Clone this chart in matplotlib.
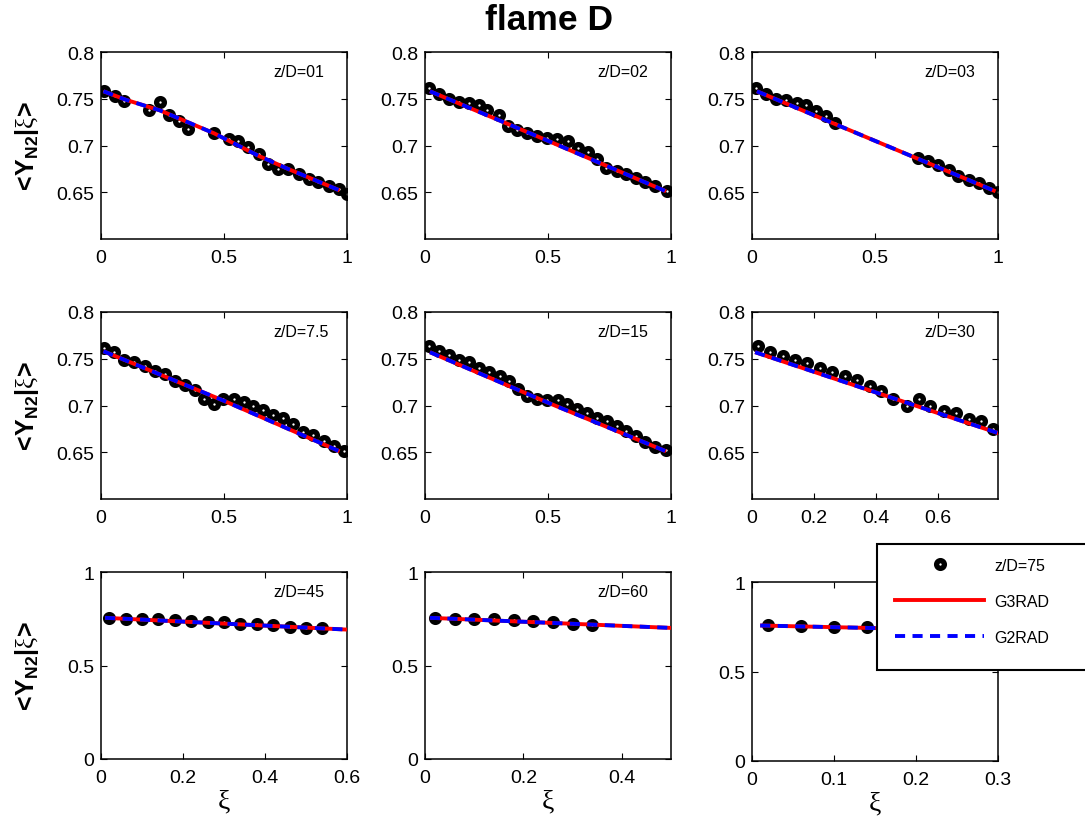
import matplotlib
matplotlib.use('Agg')
import matplotlib.pyplot as plt
from matplotlib.lines import Line2D
from matplotlib.patches import Rectangle

plt.rcParams['font.family'] = ['Liberation Sans', 'DejaVu Sans']
plt.rcParams['mathtext.fontset'] = 'custom'
plt.rcParams['mathtext.bf'] = 'Liberation Sans:bold'
plt.rcParams['mathtext.rm'] = 'Liberation Serif'
plt.rcParams['mathtext.it'] = 'Liberation Serif:italic'

# measured data (conditional mean of Y_N2), one list per station
xi_01 = [0.014, 0.058, 0.095, 0.197, 0.241, 0.276, 0.317, 0.355, 0.459, 0.521, 0.558,
         0.599, 0.644, 0.680, 0.721, 0.762, 0.803, 0.844, 0.884, 0.925, 0.966, 1.0]
y_01 = [0.758, 0.753, 0.748, 0.738, 0.746, 0.733, 0.726, 0.718, 0.713, 0.707, 0.705,
        0.698, 0.691, 0.680, 0.675, 0.675, 0.669, 0.664, 0.661, 0.657, 0.654, 0.648]

xi_02 = [0.018, 0.058, 0.099, 0.139, 0.180, 0.220, 0.254, 0.299, 0.339, 0.376, 0.416, 0.457, 0.497,
         0.538, 0.582, 0.623, 0.664, 0.700, 0.736, 0.781, 0.818, 0.858, 0.896, 0.936, 0.984]
y_02 = [0.762, 0.755, 0.750, 0.746, 0.745, 0.743, 0.738, 0.733, 0.721, 0.717, 0.713, 0.710, 0.708,
        0.707, 0.705, 0.697, 0.693, 0.686, 0.676, 0.673, 0.669, 0.665, 0.661, 0.657, 0.651]

xi_03 = [0.018, 0.058, 0.099, 0.140, 0.181, 0.218, 0.259, 0.299, 0.336,
         0.673, 0.717, 0.758, 0.799, 0.839, 0.884, 0.921, 0.962, 1.0]
y_03 = [0.761, 0.755, 0.750, 0.749, 0.745, 0.743, 0.737, 0.732, 0.724,
        0.687, 0.683, 0.679, 0.674, 0.667, 0.663, 0.660, 0.655, 0.650]

xi_7p5 = [0.014, 0.054, 0.095, 0.136, 0.177, 0.218, 0.259, 0.299, 0.340, 0.381, 0.418, 0.459, 0.497,
          0.540, 0.581, 0.619, 0.660, 0.701, 0.741, 0.782, 0.820, 0.861, 0.905, 0.946, 0.986]
y_7p5 = [0.761, 0.757, 0.749, 0.747, 0.742, 0.737, 0.734, 0.726, 0.722, 0.717, 0.707, 0.702, 0.707,
         0.707, 0.704, 0.700, 0.695, 0.690, 0.687, 0.680, 0.672, 0.668, 0.662, 0.657, 0.651]

xi_15 = [0.018, 0.058, 0.099, 0.139, 0.180, 0.220, 0.261, 0.304, 0.342, 0.380, 0.416, 0.457, 0.497,
         0.541, 0.578, 0.619, 0.659, 0.700, 0.741, 0.781, 0.818, 0.858, 0.896, 0.936, 0.980]
y_15 = [0.764, 0.758, 0.754, 0.749, 0.747, 0.740, 0.736, 0.732, 0.726, 0.718, 0.710, 0.707, 0.706,
        0.706, 0.702, 0.696, 0.692, 0.687, 0.683, 0.678, 0.673, 0.667, 0.661, 0.656, 0.652]

xi_30 = [0.018, 0.058, 0.101, 0.138, 0.179, 0.221, 0.258, 0.299, 0.340, 0.380,
         0.418, 0.457, 0.500, 0.540, 0.576, 0.620, 0.660, 0.701, 0.739, 0.779]
y_30 = [0.764, 0.757, 0.753, 0.749, 0.745, 0.740, 0.736, 0.732, 0.727, 0.721,
        0.716, 0.707, 0.700, 0.707, 0.700, 0.694, 0.692, 0.686, 0.683, 0.675]

xi_45 = [0.02, 0.06, 0.10, 0.14, 0.18, 0.22, 0.26, 0.30, 0.34, 0.38, 0.42, 0.46, 0.50, 0.54]
y_45 = [0.754, 0.751, 0.747, 0.747, 0.742, 0.738, 0.733, 0.730, 0.724, 0.724, 0.715, 0.706, 0.701, 0.701]

xi_60 = [0.02, 0.06, 0.10, 0.14, 0.18, 0.22, 0.26, 0.30, 0.34]
y_60 = [0.756, 0.751, 0.751, 0.747, 0.742, 0.738, 0.730, 0.724, 0.719]

xi_75 = [0.02, 0.06, 0.10, 0.14]
y_75 = [0.761, 0.753, 0.751, 0.748]

# model results: G3RAD and G2RAD (they lie on top of each other)
mx_01 = [0.01, 0.10, 0.24, 0.46, 0.64, 0.76, 0.97]
g3_01 = [0.758, 0.749, 0.7375, 0.713, 0.689, 0.675, 0.652]
g2_01 = [0.758, 0.749, 0.7375, 0.713, 0.689, 0.675, 0.652]
mx_02 = [0.02, 0.5, 0.98]
g3_02 = [0.758, 0.705, 0.651]
g2_02 = [0.758, 0.705, 0.651]
mx_03 = [0.02, 0.5, 0.99]
g3_03 = [0.758, 0.705, 0.651]
g2_03 = [0.758, 0.705, 0.651]
mx_7p5 = [0.01, 0.5, 0.97]
g3_7p5 = [0.758, 0.705, 0.651]
g2_7p5 = [0.758, 0.705, 0.651]
mx_15 = [0.02, 0.5, 0.98]
g3_15 = [0.757, 0.703, 0.651]
g2_15 = [0.757, 0.703, 0.651]
mx_30 = [0.01, 0.4, 0.8]
g3_30 = [0.757, 0.714, 0.670]
g2_30 = [0.757, 0.714, 0.670]
mx_45 = [0.01, 0.6]
g3_45 = [0.755, 0.692]
g2_45 = [0.755, 0.692]
mx_60 = [0.01, 0.5]
g3_60 = [0.755, 0.701]
g2_60 = [0.755, 0.701]
mx_75 = [0.01, 0.3]
g3_75 = [0.757, 0.727]
g2_75 = [0.757, 0.727]

stations = ['z/D=01', 'z/D=02', 'z/D=03', 'z/D=7.5', 'z/D=15', 'z/D=30', 'z/D=45', 'z/D=60', 'z/D=75']
xlims = [1, 1, 1, 1, 1, 0.795, 0.6, 0.5, 0.3]
xticks = [[0, 0.5, 1]] * 5 + [[0, 0.2, 0.4, 0.6], [0, 0.2, 0.4, 0.6], [0, 0.2, 0.4], [0, 0.1, 0.2, 0.3]]
xticklabels = [['0', '0.5', '1']] * 5 + [['0', '0.2', '0.4', '0.6'], ['0', '0.2', '0.4', '0.6'],
                                         ['0', '0.2', '0.4'], ['0', '0.1', '0.2', '0.3']]
yticks_top = [0.65, 0.7, 0.75, 0.8]
yticklabels_top = ['0.65', '0.7', '0.75', '0.8']
yticks_bot = [0, 0.5, 1]
yticklabels_bot = ['0', '0.5', '1']

meas = [(xi_01, y_01), (xi_02, y_02), (xi_03, y_03), (xi_7p5, y_7p5), (xi_15, y_15),
        (xi_30, y_30), (xi_45, y_45), (xi_60, y_60), (xi_75, y_75)]
models = [(mx_01, g3_01, g2_01), (mx_02, g3_02, g2_02), (mx_03, g3_03, g2_03),
          (mx_7p5, g3_7p5, g2_7p5), (mx_15, g3_15, g2_15), (mx_30, g3_30, g2_30),
          (mx_45, g3_45, g2_45), (mx_60, g3_60, g2_60), (mx_75, g3_75, g2_75)]

W, H = 1085, 820
fig = plt.figure(figsize=(W / 100, H / 100), dpi=100)

# panel boxes in pixels: left, top, width, height
lefts = [101, 425, 752]
tops = [53, 313, 573]
boxes = []
for r in range(3):
    for c in range(3):
        t, h = tops[r], 187
        if r == 2 and c == 2:
            t, h = 583, 179
        boxes.append((lefts[c], t, 246, h))

mk = dict(linestyle='none', marker='o', ms=5.6, mew=3.8, mec='black', mfc='white')

for i in range(9):
    l, t, w, h = boxes[i]
    ax = fig.add_axes([l / W, 1 - (t + h) / H, w / W, h / H])
    x, y = meas[i]
    mx, g3, g2 = models[i]
    ax.plot(x, y, zorder=2, **mk)
    ax.plot(mx, g3, color='red', lw=2.8, solid_capstyle='butt', zorder=3)
    ax.plot(mx, g2, color='blue', lw=2.8, dashes=(2.6, 1.9), dash_capstyle='butt', zorder=4)
    ax.set_xlim(0, xlims[i])
    ax.set_xticks(xticks[i], xticklabels[i])
    if i < 6:
        ax.set_ylim(0.6, 0.8)
        ax.set_yticks(yticks_top, yticklabels_top)
    else:
        ax.set_ylim(0, 1)
        ax.set_yticks(yticks_bot, yticklabels_bot)
        ax.set_xlabel('ξ', fontsize=20, family='Liberation Serif', labelpad=2)
    ax.tick_params(direction='in', top=True, right=True, length=4, width=0.8, labelsize=14)
    ax.tick_params(axis='x', pad=7)
    ax.tick_params(axis='y', pad=5)
    for s in ax.spines.values():
        s.set_linewidth(1.1)
    if i < 8:
        ax.text(0.70, 0.895, stations[i], transform=ax.transAxes, fontsize=11.5, va='center')

# row labels
for r in range(3):
    yc = tops[r] + 94
    fig.text(27 / W, 1 - yc / H, r'$\mathbf{<\!Y_{N2}|}\mathrm{\xi}\mathbf{\!>}$',
             rotation=90, ha='center', va='center', fontsize=18)

fig.text(549 / W, 1 - 20 / H, 'flame D', ha='center', va='center', fontsize=25.5, fontweight='bold')

# legend box runs off the right edge, as in the original
fig.patches.append(Rectangle((877 / W, 1 - 671 / H), 240 / W, 126 / H, transform=fig.transFigure,
                             facecolor='white', edgecolor='black', lw=1.5, zorder=4))
handles = [Line2D([], [], **mk),
           Line2D([], [], color='red', lw=2.8),
           Line2D([], [], color='blue', lw=2.8, dashes=(2.6, 1.9))]
leg = fig.legend(handles, ['z/D=75', 'G3RAD', 'G2RAD'], loc='upper left',
                 bbox_to_anchor=(895 / W, 1 - 559 / H), frameon=False, fontsize=11.5,
                 borderpad=0, borderaxespad=0, handlelength=5.6, handletextpad=0.6,
                 labelspacing=1.3, numpoints=1)
leg.set_zorder(5)

fig.savefig('out.png', dpi=100)
